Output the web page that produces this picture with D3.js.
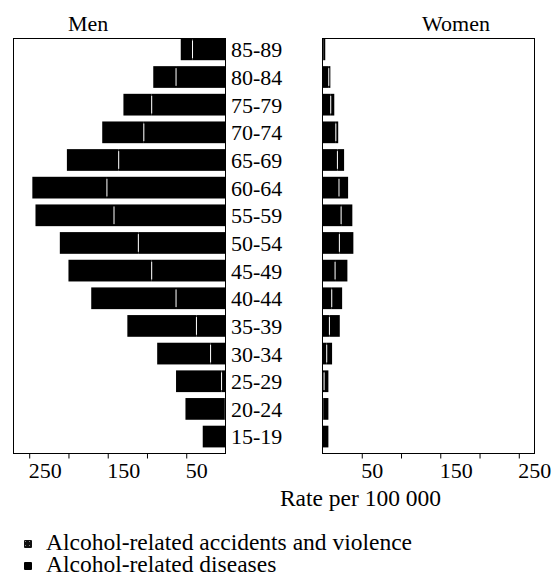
<!DOCTYPE html>
<html>
<head>
<meta charset="utf-8">
<script src="https://cdn.jsdelivr.net/npm/d3@7"></script>
<style>
  body { margin: 0; background: #fff; }
  text { font-family: "Liberation Serif", "Times New Roman", serif; fill: #000; }
</style>
</head>
<body>
<div id="chart"></div>
<script>
// age groups, top to bottom
const ages = ["85-89", "80-84", "75-79", "70-74", "65-69", "60-64", "55-59", "50-54",
              "45-49", "40-44", "35-39", "30-34", "25-29", "20-24", "15-19"];

// rates per 100 000
const menDiseases   = [42, 63, 94, 104, 136, 151, 142, 111, 94, 63, 37, 19, 5, 1, 0];
const menAccidents  = [15, 29, 36, 53, 66, 95, 100, 100, 106, 108, 88, 68, 58, 50, 29];
const womenDiseases  = [1, 8, 10.5, 17, 19, 21, 23.7, 21.5, 16, 11.8, 8.8, 5.4, 2, 1, 0.5];
const womenAccidents = [2.5, 2, 4.5, 3, 8.5, 11.6, 14.3, 17.8, 15.7, 13.2, 13.2, 6.8, 5.5, 6.5, 7];

const tickValues = [50, 100, 150, 200, 250];
const labelledTicks = [50, 150, 250];
const legendLabels = ["Alcohol-related accidents and violence", "Alcohol-related diseases"];

function drawChart() {
    let width = 554, height = 578;

    let svg = d3.select("#chart")
        .append("svg")
        .attr("width", width)
        .attr("height", height);

    let menX = d3.scaleLinear().domain([0, 270]).range([225.5, 13.5]);
    let womenX = d3.scaleLinear().domain([0, 270]).range([322.5, 534.5]);

    let y = d3.scaleBand().domain(ages)
        .range([38.5, 453.5])
        .paddingInner(0.215)
        .paddingOuter(0.11)
        .align(0);

    let panels = [
        {x: menX, dis: menDiseases, acc: menAccidents, title: "Men", dir: -1},
        {x: womenX, dis: womenDiseases, acc: womenAccidents, title: "Women", dir: 1}
    ];

    panels.forEach(function(p) {
        let x = p.x;
        let g = svg.append("g");

        // frame
        let x0 = Math.min(x(0), x(270)), x1 = Math.max(x(0), x(270));
        g.append("rect")
            .attr("x", x0)
            .attr("y", 38.5)
            .attr("width", x1 - x0)
            .attr("height", 415)
            .attr("fill", "none")
            .attr("stroke", "#000")
            .attr("stroke-width", 1);

        let rows = ages.map(function(a, i) {
            return {age: a, dis: p.dis[i], acc: p.acc[i]};
        });

        // diseases (next to the centre)
        g.selectAll(".dis")
            .data(rows)
            .join("rect")
            .attr("class", "dis")
            .attr("x", d => Math.min(x(0), x(d.dis)))
            .attr("width", d => Math.abs(x(d.dis) - x(0)))
            .attr("y", d => y(d.age))
            .attr("height", y.bandwidth())
            .attr("fill", "#000");

        // accidents and violence (outer part)
        g.selectAll(".acc")
            .data(rows)
            .join("rect")
            .attr("class", "acc")
            .attr("x", d => Math.min(x(d.dis), x(d.dis + d.acc)))
            .attr("width", d => Math.abs(x(d.dis + d.acc) - x(d.dis)))
            .attr("y", d => y(d.age))
            .attr("height", y.bandwidth())
            .attr("fill", "#000");

        // thin white split between the two parts
        g.selectAll(".split")
            .data(rows.filter(d => d.dis >= 2 && d.acc >= 2))
            .join("line")
            .attr("class", "split")
            .attr("x1", d => x(d.dis))
            .attr("x2", d => x(d.dis))
            .attr("y1", d => y(d.age) + 2)
            .attr("y2", d => y(d.age) + y.bandwidth() - 2)
            .attr("stroke", "#fff")
            .attr("stroke-width", 1);

        // bottom axis
        let axis = d3.axisBottom(x)
            .tickValues(tickValues)
            .tickSize(5)
            .tickFormat(d => labelledTicks.includes(d) ? d : "");

        let ax = g.append("g")
            .attr("transform", "translate(0,453.5)")
            .call(axis);
        ax.select(".domain").remove();
        ax.selectAll(".tick line").attr("stroke", "#000");
        ax.selectAll(".tick text")
            .attr("text-anchor", "start")
            .attr("x", -1)
            .attr("y", 24.5)
            .attr("dy", 0)
            .style("font-family", "'Liberation Serif', serif")
            .style("font-size", "22px")
            .attr("fill", "#000");

        // panel title
        g.append("text")
            .attr("x", x(p.dir < 0 ? 175 : 170))
            .attr("y", 30.5)
            .attr("text-anchor", "middle")
            .style("font-size", "22px")
            .text(p.title);
    });

    // age group labels between the panels
    svg.append("g")
        .selectAll("text")
        .data(ages)
        .join("text")
        .attr("x", 231)
        .attr("y", d => y(d) + y.bandwidth() / 2)
        .attr("dy", "0.36em")
        .style("font-size", "22px")
        .text(d => d);

    svg.append("text")
        .attr("x", 360.5)
        .attr("y", 506)
        .attr("text-anchor", "middle")
        .style("font-size", "23.5px")
        .text("Rate per 100 000");

    // legend
    let defs = svg.append("defs");
    let pat = defs.append("pattern")
        .attr("id", "speckle")
        .attr("width", 4).attr("height", 4)
        .attr("patternUnits", "userSpaceOnUse");
    pat.append("rect").attr("width", 4).attr("height", 4).attr("fill", "#111");
    pat.append("rect").attr("x", 1).attr("y", 1).attr("width", 1).attr("height", 1).attr("fill", "#888");

    let legend = svg.append("g");
    legend.selectAll("rect")
        .data(legendLabels)
        .join("rect")
        .attr("x", 24)
        .attr("y", (d, i) => 540 + i * 22)
        .attr("width", 8)
        .attr("height", 8)
        .attr("rx", 1)
        .attr("fill", (d, i) => i === 0 ? "url(#speckle)" : "#000");

    legend.selectAll("text")
        .data(legendLabels)
        .join("text")
        .attr("x", 46)
        .attr("y", (d, i) => 550 + i * 22)
        .style("font-size", "23.5px")
        .text(d => d);
}

drawChart();
</script>
</body>
</html>
